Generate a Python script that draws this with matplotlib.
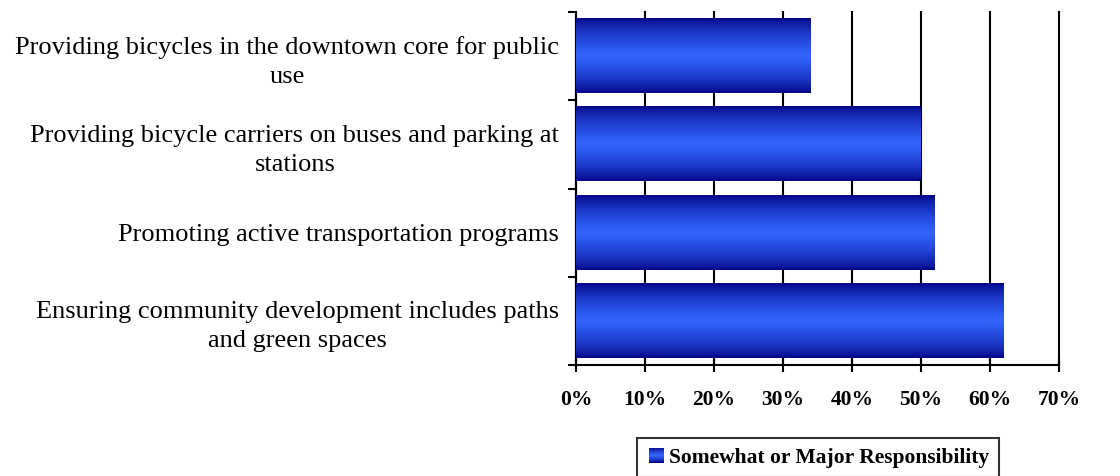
import numpy as np
import matplotlib
matplotlib.use("Agg")
import matplotlib.pyplot as plt
from matplotlib.patches import Patch, Rectangle
from matplotlib.legend_handler import HandlerBase
from matplotlib.ticker import FixedLocator, PercentFormatter

categories = [
    "Ensuring community development includes paths\nand green spaces",
    "Promoting active transportation programs",
    "Providing bicycle carriers on buses and parking at\nstations",
    "Providing bicycles in the downtown core for public\nuse",
]
values = [62, 52, 50, 34]
series_name = "Somewhat or Major Responsibility"
xticks = [0, 10, 20, 30, 40, 50, 60, 70]

dark = np.array([0, 0, 128]) / 255.0
bright = np.array([51, 102, 255]) / 255.0

def gradient_colors(n):
    t = np.linspace(0, 1, n)
    s = (1 - np.abs(2 * t - 1)) ** 0.65
    return dark[None, :] + (bright - dark)[None, :] * s[:, None]

plt.rcParams['font.family'] = ['Liberation Serif', 'DejaVu Serif']

fig = plt.figure(figsize=(11.2, 4.76), dpi=100)
ax = fig.add_axes([576 / 1120, 1 - 365 / 476, (1059 - 576) / 1120, (365 - 12) / 476])

ypos = np.arange(len(categories))
bars = ax.barh(ypos, values, height=0.84, color='none', edgecolor='none', zorder=3)
grad = gradient_colors(256)[:, None, :]
for b in bars:
    x0, y0, w, h = b.get_x(), b.get_y(), b.get_width(), b.get_height()
    ax.imshow(grad, extent=[x0, x0 + w, y0, y0 + h], aspect='auto',
              origin='upper', interpolation='bilinear', zorder=3)

ax.set_xlim(0, 70)
ax.set_ylim(-0.5, len(categories) - 0.5)

ax.xaxis.set_major_locator(FixedLocator(xticks))
ax.xaxis.set_major_formatter(PercentFormatter(decimals=0))
ax.grid(axis='x', color='black', linewidth=1.5, zorder=1)
for gl in ax.get_xgridlines():
    gl.set_clip_on(False)
ax.set_axisbelow(True)

ax.yaxis.set_major_locator(FixedLocator(np.arange(len(categories) + 1) - 0.5))
ax.yaxis.set_major_formatter(plt.NullFormatter())
ax.yaxis.set_minor_locator(FixedLocator(ypos))
ax.set_yticklabels(categories, minor=True)
ax.tick_params(axis='y', which='major', direction='out', length=6, width=1.5)
ax.tick_params(axis='y', which='minor', length=0, pad=12, labelsize=19)
for t in ax.get_yticklabels(minor=True):
    t.set_multialignment('center')
    t.set_linespacing(1.4)

ax.tick_params(axis='x', direction='inout', length=10, width=1.5, pad=13, labelsize=15.5)
for t in ax.get_xticklabels():
    t.set_fontweight('bold')

for s in ['top', 'right']:
    ax.spines[s].set_visible(False)
for s in ['left', 'bottom']:
    ax.spines[s].set_linewidth(1.5)


class GradientHandler(HandlerBase):
    def create_artists(self, legend, orig_handle, xdescent, ydescent,
                       width, height, fontsize, trans):
        n = 20
        size = height * 1.0
        x0 = xdescent + width - size
        cols = gradient_colors(n)
        arts = []
        for i in range(n):
            r = Rectangle((x0 - xdescent, -ydescent + size * i / n - (size - height) / 2),
                          size, size / n + 0.01, facecolor=cols[i],
                          edgecolor='none', transform=trans)
            arts.append(r)
        return arts


handle = Patch(label=series_name)
leg = fig.legend([handle], [series_name], loc='upper center',
                 bbox_to_anchor=(818 / 1120, 1 - 438 / 476),
                 handler_map={Patch: GradientHandler()},
                 frameon=True, fancybox=False, edgecolor='black',
                 prop={'weight': 'bold', 'size': 15.5},
                 handlelength=0.8, handletextpad=0.25, borderpad=0.45,
                 borderaxespad=0)
leg.get_frame().set_linewidth(1.5)

fig.savefig('out.png', dpi=100)
